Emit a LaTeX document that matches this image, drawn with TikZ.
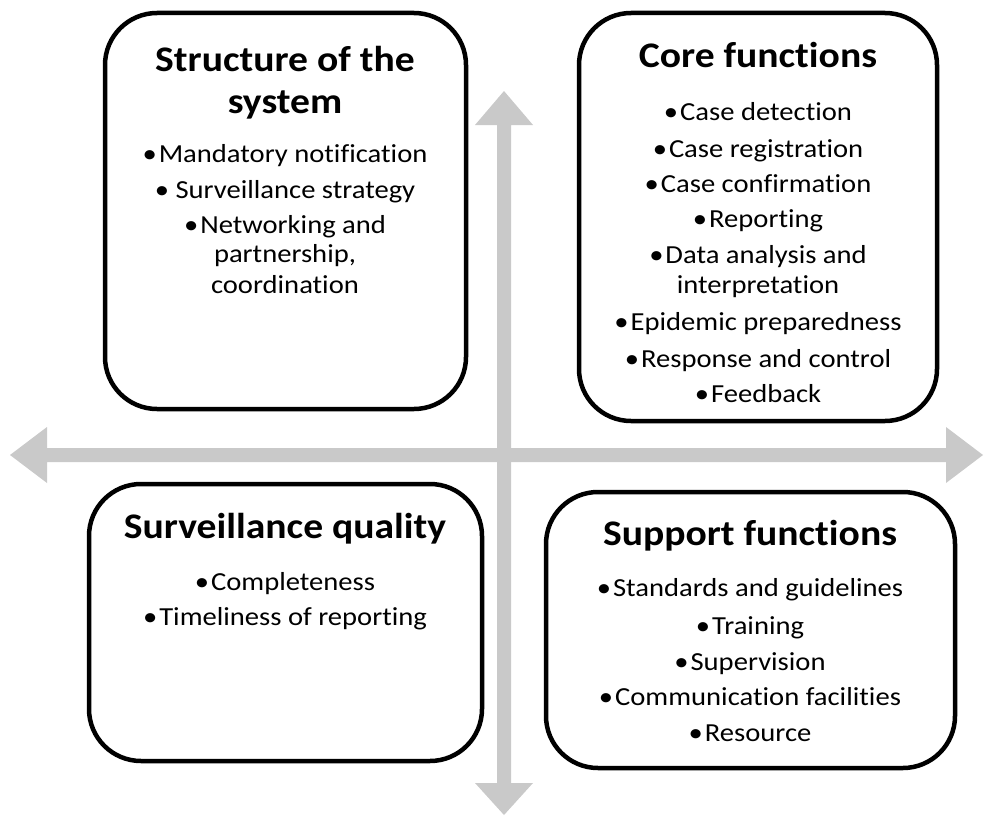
\documentclass[tikz,border=0pt]{standalone}
\usepackage{fontspec}
\setmainfont{Carlito}[FakeStretch=1.1,Ligatures=NoCommon]
\definecolor{arrgray}{RGB}{201,201,201}
\newcommand{\bul}{•\kern2pt}
\begin{document}
\begin{tikzpicture}[x=1pt,y=-1pt,
  qbox/.style={draw=black,line width=4.5pt,rounded corners=52pt,fill=white},
  ttl/.style={font=\fontsize{36}{40}\selectfont\bfseries,anchor=base,inner sep=0pt},
  itm/.style={font=\fontsize{26}{30}\selectfont,anchor=base,inner sep=0pt}]
\useasboundingbox (0,0) rectangle (985,816);
% arrows
\fill[arrgray] (10,455) -- (47,427) -- (47,448) -- (946,448) -- (946,427) -- (983,455)
  -- (946,483) -- (946,462) -- (47,462) -- (47,483) -- cycle;
\fill[arrgray] (504,91) -- (533,125) -- (511,125) -- (511,783) -- (533,783) -- (504,815)
  -- (475,783) -- (497,783) -- (497,125) -- (475,125) -- cycle;
% boxes
\draw[qbox] (105,13) rectangle (466,409);
\draw[qbox] (579,13) rectangle (937,421);
\draw[qbox] (89,484) rectangle (482,761);
\draw[qbox] (546,492) rectangle (955,768);
% box 1
\node[ttl] (t1a) at (285,71) {Structure of the};
\node[ttl] (t1b) at (285,113) {system};
\foreach \y/\t [count=\i] in {162/{\bul Mandatory notification},198/{•\ Surveillance strategy},233/{\bul Networking and},262/{partnership,},293/{coordination}}
  \node[itm] (a\i) at (285,\y) {\t};
% box 2
\node[ttl] (t2) at (758,67) {Core functions};
\foreach \y/\t [count=\i] in {120/{\bul Case detection},157/{\bul Case registration},192/{\bul Case confirmation},227/{\bul Reporting},263/{\bul Data analysis and},293/{interpretation},330/{\bul Epidemic preparedness},367/{\bul Response and control},402/{\bul Feedback}}
  \node[itm] (b\i) at (758,\y) {\t};
% box 3
\node[ttl] (t3) at (285,538) {Surveillance quality};
\foreach \y/\t [count=\i] in {590/{\bul Completeness},625/{\bul Timeliness of reporting}}
  \node[itm] (c\i) at (285,\y) {\t};
% box 4
\node[ttl] (t4) at (750,545) {Support functions};
\foreach \y/\t [count=\i] in {596/{\bul Standards and guidelines},634/{\bul Training},670/{\bul Supervision},705/{\bul Communication facilities},741/{\bul Resource}}
  \node[itm] (d\i) at (750,\y) {\t};
\end{tikzpicture}
\end{document}
